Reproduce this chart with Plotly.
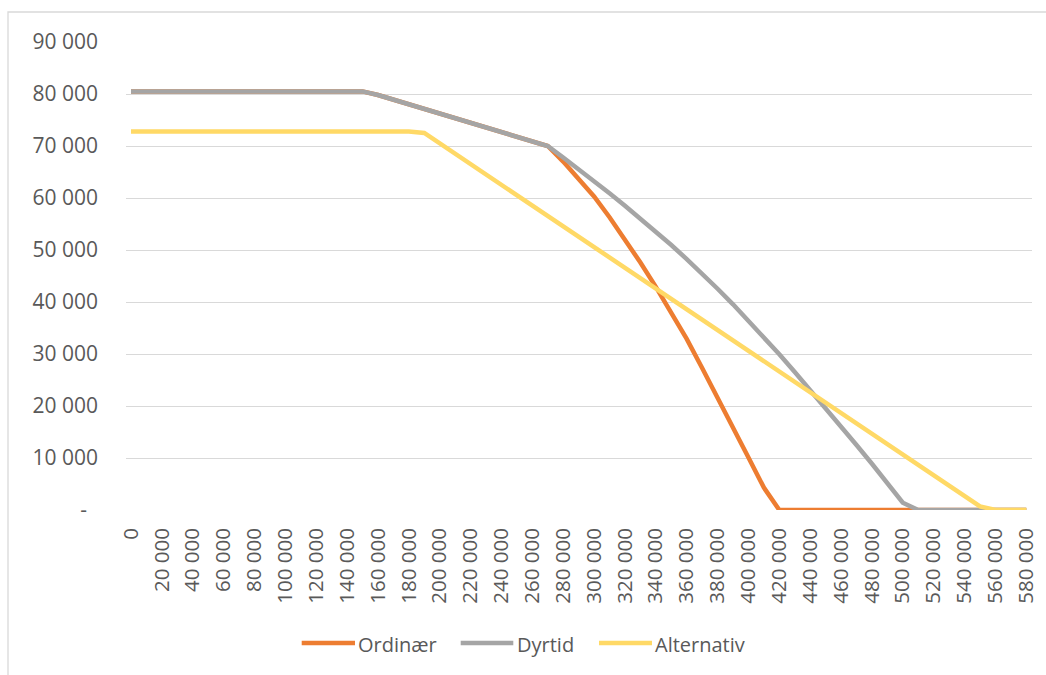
import plotly.graph_objects as go

inntekt = [0, 10000, 20000, 30000, 40000, 50000, 60000, 70000, 80000, 90000,
           100000, 110000, 120000, 130000, 140000, 150000, 160000, 170000, 180000, 190000,
           200000, 210000, 220000, 230000, 240000, 250000, 260000, 270000, 280000, 290000,
           300000, 310000, 320000, 330000, 340000, 350000, 360000, 370000, 380000, 390000,
           400000, 410000, 420000, 430000, 440000, 450000, 460000, 470000, 480000, 490000,
           500000, 510000, 520000, 530000, 540000, 550000, 560000, 570000, 580000]

ordinaer = [80500, 80500, 80500, 80500, 80500, 80500, 80500, 80500, 80500, 80500,
            80500, 80500, 80500, 80500, 80500, 80500, 79800, 78900, 78000, 77100,
            76200, 75300, 74500, 73600, 72700, 71800, 70900, 70000, 67000, 63800,
            60300, 56300, 52100, 47600, 42900, 38000, 32900, 27300, 21700, 15900,
            10100, 4300, 0, 0, 0, 0, 0, 0, 0, 0,
            0, 0, 0, 0, 0, 0, 0, 0, 0]

dyrtid = [80500, 80500, 80500, 80500, 80500, 80500, 80500, 80500, 80500, 80500,
          80500, 80500, 80500, 80500, 80500, 80500, 79800, 78900, 78000, 77100,
          76200, 75300, 74500, 73600, 72700, 71800, 70900, 70000, 67800, 65550,
          63250, 60900, 58500, 56050, 53550, 50950, 48250, 45450, 42550, 39550,
          36450, 33250, 29950, 26550, 23100, 19600, 16050, 12500, 8900, 5200,
          1400, 0, 0, 0, 0, 0, 0, 0, 0]

alternativ = [72800, 72800, 72800, 72800, 72800, 72800, 72800, 72800, 72800, 72800,
              72800, 72800, 72800, 72800, 72800, 72800, 72800, 72800, 72800, 72500,
              70500, 68500, 66500, 64500, 62500, 60600, 58600, 56600, 54600, 52600,
              50600, 48600, 46600, 44600, 42600, 40600, 38600, 36600, 34600, 32600,
              30600, 28600, 26700, 24700, 22700, 20700, 18700, 16700, 14700, 12700,
              10700, 8700, 6700, 4700, 2700, 700, 0, 0, 0]

series_names = ["Ordinær", "Dyrtid", "Alternativ"]
series_colors = ["#ED7D31", "#A5A5A5", "#FFD966"]

x_tickvals = [0, 20000, 40000, 60000, 80000, 100000, 120000, 140000, 160000, 180000,
              200000, 220000, 240000, 260000, 280000, 300000, 320000, 340000, 360000,
              380000, 400000, 420000, 440000, 460000, 480000, 500000, 520000, 540000,
              560000, 580000]
x_ticktext = ["0", "20 000", "40 000", "60 000", "80 000", "100 000", "120 000", "140 000",
              "160 000", "180 000", "200 000", "220 000", "240 000", "260 000", "280 000",
              "300 000", "320 000", "340 000", "360 000", "380 000", "400 000", "420 000",
              "440 000", "460 000", "480 000", "500 000", "520 000", "540 000", "560 000",
              "580 000"]
y_tickvals = [0, 10000, 20000, 30000, 40000, 50000, 60000, 70000, 80000, 90000]
y_ticktext = ["-\u00a0\u00a0", "10 000", "20 000", "30 000", "40 000", "50 000",
              "60 000", "70 000", "80 000", "90 000"]

FONT = "Open Sans"
TXT = "#595959"
W, H = 1046, 675
ML, MR, MT, MB = 126, 14, 42, 165
PW, PH = W - ML - MR, H - MT - MB


def px_x(p):
    return (p - ML) / PW


def px_y(p):
    return (H - MB - p) / PH


fig = go.Figure()
for name, vals, col in zip(series_names, [ordinaer, dyrtid, alternativ], series_colors):
    fig.add_trace(go.Scatter(x=inntekt, y=vals, mode="lines", name=name,
                             line=dict(color=col, width=4.5), showlegend=False))

# legend drawn as line samples + text (positions in pixels)
legend_line_x = [(301.7, 355.0), (460.7, 513.3), (599.0, 652.0)]
legend_text_x = [358.0, 516.7, 655.0]
legend_y = 643.0
shapes = [dict(type="rect", xref="paper", yref="paper",
               x0=px_x(8), x1=1.3, y0=-0.6, y1=px_y(12),
               line=dict(color="#D9D9D9", width=1.3), fillcolor="rgba(0,0,0,0)",
               layer="below")]
annotations = []
for (a, b), tx, name, col in zip(legend_line_x, legend_text_x, series_names, series_colors):
    shapes.append(dict(type="line", xref="paper", yref="paper",
                       x0=px_x(a), x1=px_x(b), y0=px_y(legend_y), y1=px_y(legend_y),
                       line=dict(color=col, width=4.5)))
    annotations.append(dict(xref="paper", yref="paper", x=px_x(tx), y=px_y(legend_y + 1.5),
                            xanchor="left", yanchor="middle", text=name, showarrow=False,
                            xshift=-2, font=dict(family=FONT, size=20, color=TXT)))

fig.update_layout(
    width=W, height=H,
    margin=dict(l=ML, r=MR, t=MT, b=MB, autoexpand=False),
    paper_bgcolor="white", plot_bgcolor="white",
    font=dict(family=FONT, size=20, color=TXT),
    showlegend=False,
    xaxis=dict(range=[-3240, 583700], tickmode="array", tickvals=x_tickvals,
               ticktext=x_ticktext, tickangle=-90, showgrid=False, zeroline=False,
               showline=False, ticks="", ticklabelstandoff=13, automargin=False,
               tickfont=dict(family=FONT, size=20.5, color=TXT)),
    yaxis=dict(range=[0, 90000], tickmode="array", tickvals=y_tickvals,
               ticktext=y_ticktext, showgrid=True, gridcolor="#D9D9D9", gridwidth=1.3,
               zeroline=False, showline=False, ticks="", ticklabelstandoff=27,
               automargin=False,
               tickfont=dict(family=FONT, size=21, color=TXT)),
    shapes=shapes,
    annotations=annotations,
)

fig.write_html("out.html", config={"displayModeBar": False})

# remove the default 8px page margin so the figure sits at the window origin
with open("out.html", encoding="utf-8") as f:
    html = f.read()
html = html.replace("<body>", '<body style="margin:0;overflow:hidden">', 1)
with open("out.html", "w", encoding="utf-8") as f:
    f.write(html)
